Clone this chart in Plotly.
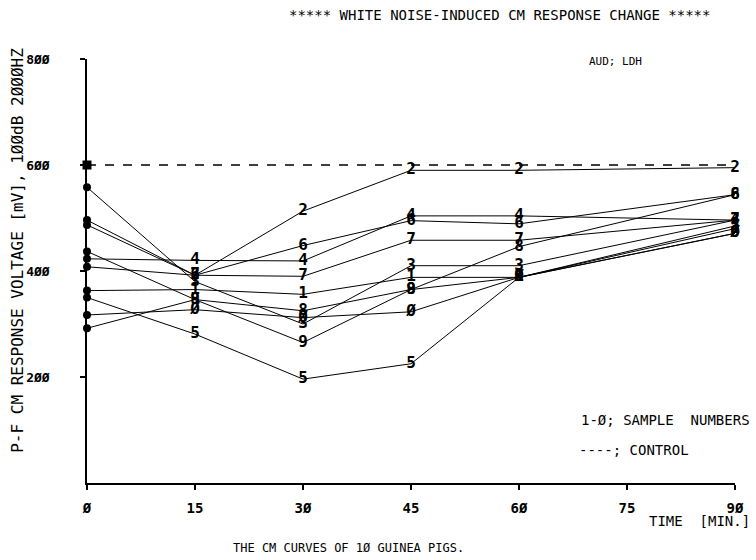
import plotly.graph_objects as go

# ---- data ----
times = [0, 15, 30, 45, 60, 90]
sample_labels = ["1", "2", "3", "4", "5", "6", "7", "8", "9", "Ø"]
s1 = [363, 365, 356, 388, 388, 480]
s2 = [487, 392, 513, 590, 590, 595]
s3 = [558, 380, 300, 410, 410, 496]
s4 = [423, 420, 419, 504, 504, 496]
s5 = [350, 281, 196, 225, 388, 485]
s6 = [496, 392, 448, 495, 489, 544]
s7 = [408, 392, 390, 458, 458, 496]
s8 = [437, 346, 325, 365, 446, 544]
s9 = [292, 346, 265, 365, 388, 471]
s0 = [317, 327, 312, 323, 388, 471]
series = [s1, s2, s3, s4, s5, s6, s7, s8, s9, s0]
control_x = [0, 90]
control_y = [600, 600]

x_ticks = [0, 15, 30, 45, 60, 75, 90]
x_ticktext = ["Ø", "15", "3Ø", "45", "6Ø", "75", "9Ø"]
y_ticks = [200, 400, 600, 800]
y_ticktext = ["2ØØ", "4ØØ", "6ØØ", "8ØØ"]

MONO = "DejaVu Sans Mono"

fig = go.Figure()

fig.add_trace(go.Scatter(x=control_x, y=control_y, mode="lines",
                         line=dict(color="black", width=1.3, dash="dash"),
                         showlegend=False, cliponaxis=False))

for lab, ys in zip(sample_labels, series):
    fig.add_trace(go.Scatter(x=times, y=ys, mode="lines",
                             line=dict(color="black", width=1),
                             showlegend=False, cliponaxis=False))
    fig.add_trace(go.Scatter(x=times[:1], y=ys[:1], mode="markers",
                             marker=dict(color="black", size=8),
                             showlegend=False, cliponaxis=False))
    fig.add_trace(go.Scatter(x=times[1:], y=ys[1:], mode="text",
                             text=[lab] * (len(times) - 1),
                             textposition="middle center",
                             textfont=dict(family=MONO, size=16, color="black",
                                           weight="bold"),
                             showlegend=False, cliponaxis=False))

fig.add_trace(go.Scatter(x=control_x[:1], y=control_y[:1], mode="markers",
                         marker=dict(color="black", size=9, symbol="square"),
                         showlegend=False, cliponaxis=False))

fig.update_layout(
    width=756, height=560,
    margin=dict(l=87, r=21, t=59, b=77),
    paper_bgcolor="white", plot_bgcolor="white",
    font=dict(family=MONO, color="black", size=12),
    title=dict(text="***** WHITE NOISE-INDUCED CM RESPONSE CHANGE *****",
               x=0.661, xanchor="center", y=0.973, yanchor="middle",
               font=dict(family=MONO, size=14, color="black")),
    xaxis=dict(range=[0, 90], tickvals=x_ticks, ticktext=x_ticktext,
               showgrid=False, zeroline=False, showline=True,
               linecolor="black", linewidth=1.5,
               ticks="outside", ticklen=5, tickcolor="black", tickwidth=1.5,
               tickfont=dict(family=MONO, size=14, color="black", weight="bold"),
               ticklabelstandoff=6),
    yaxis=dict(range=[0, 800], tickvals=y_ticks, ticktext=y_ticktext,
               showgrid=False, zeroline=False, showline=True,
               linecolor="black", linewidth=1.5,
               ticks="outside", ticklen=5, tickcolor="black", tickwidth=1.5,
               tickfont=dict(family=MONO, size=13, color="black", weight="bold"),
               ticklabelstandoff=28),
)

def ann(text, x, y, size, xanchor="center", angle=0):
    fig.add_annotation(text=text, x=x, y=y, xref="paper", yref="paper",
                       showarrow=False, xanchor=xanchor, yanchor="middle",
                       textangle=angle,
                       font=dict(family=MONO, size=size, color="black"))

ann("P-F CM RESPONSE VOLTAGE [mV], 1ØØdB 2ØØØHZ", -0.1065, 0.55, 16, angle=-90)
ann("AUD; LDH", 0.815, 0.993, 11)
ann("1-Ø; SAMPLE  NUMBERS", 1.026, 0.149, 14, xanchor="right")
ann("----; CONTROL", 0.756, 0.078, 14, xanchor="left")
ann("TIME  [MIN.]", 1.026, -0.09, 14, xanchor="right")
ann("THE CM CURVES OF 1Ø GUINEA PIGS.", 0.403, -0.153, 12)

fig.write_html("out.html", config={"displayModeBar": False})

# remove the default page margin so the figure sits at the window's corner
with open("out.html", "r", encoding="utf-8") as f:
    html = f.read()
html = html.replace("<body>", '<body style="margin:0">', 1)
with open("out.html", "w", encoding="utf-8") as f:
    f.write(html)
